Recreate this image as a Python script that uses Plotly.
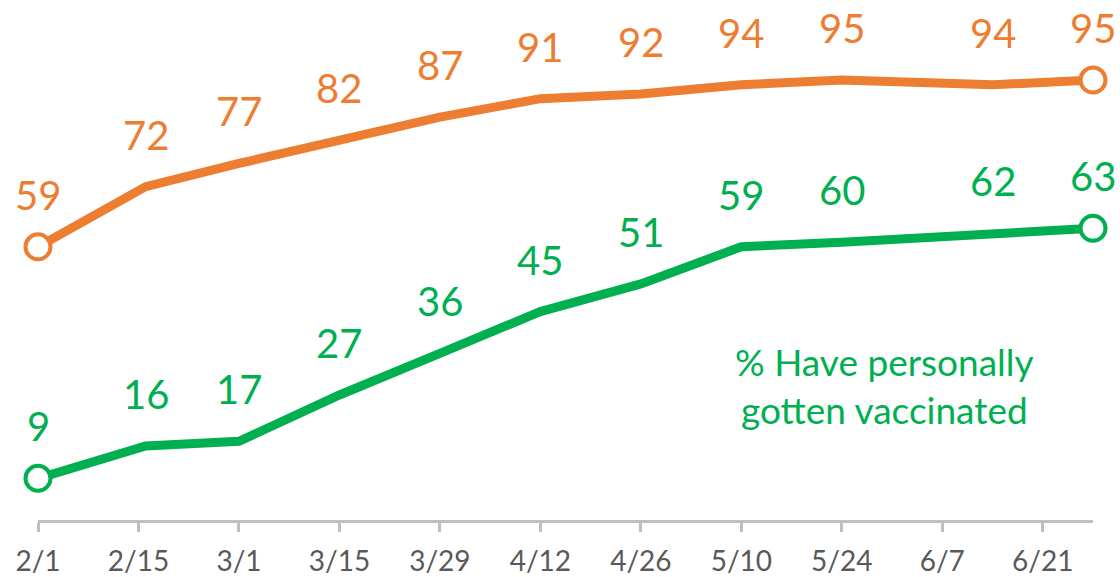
import plotly.graph_objects as go

dates = ["2021-02-01", "2021-02-16", "2021-03-01", "2021-03-15", "2021-03-29",
         "2021-04-12", "2021-04-26", "2021-05-10", "2021-05-24", "2021-06-14", "2021-06-28"]
orange_vals = [59, 72, 77, 82, 87, 91, 92, 94, 95, 94, 95]
green_vals = [9, 16, 17, 27, 36, 45, 51, 59, 60, 62, 63]

tick_dates = ["2021-02-01", "2021-02-15", "2021-03-01", "2021-03-15", "2021-03-29",
              "2021-04-12", "2021-04-26", "2021-05-10", "2021-05-24", "2021-06-07", "2021-06-21"]
tick_labels = ["2/1", "2/15", "3/1", "3/15", "3/29", "4/12", "4/26", "5/10", "5/24", "6/7", "6/21"]

green_label = "% Have personally<br>gotten vaccinated"

ORANGE = "#ED7D31"
GREEN = "#00B050"
FONT = "Lato"

fig = go.Figure()
for vals, col in [(orange_vals, ORANGE), (green_vals, GREEN)]:
    fig.add_trace(go.Scatter(x=dates, y=vals, mode="lines",
                             line=dict(color=col, width=9), cliponaxis=False,
                             hoverinfo="skip", showlegend=False))
    fig.add_trace(go.Scatter(x=[dates[0], dates[-1]], y=[vals[0], vals[-1]], mode="markers",
                             marker=dict(size=25, color="white", line=dict(color=col, width=4)),
                             cliponaxis=False, hoverinfo="skip", showlegend=False))
    for d, v in zip(dates, vals):
        fig.add_annotation(x=d, y=v, text=str(v), showarrow=False, yanchor="middle",
                           yshift=52, font=dict(family=FONT, size=40, color=col))

fig.add_annotation(x="2021-05-30", y=29, text=green_label, showarrow=False,
                   xanchor="center", yanchor="middle", align="center",
                   font=dict(family=FONT, size=37, color=GREEN))

fig.update_layout(
    width=1120, height=577,
    margin=dict(l=38, r=27, t=0, b=57),
    paper_bgcolor="white", plot_bgcolor="white",
    xaxis=dict(type="date", range=["2021-02-01", "2021-06-28"],
               tickvals=tick_dates, ticktext=tick_labels,
               showgrid=False, zeroline=False,
               showline=True, linecolor="#BFBFBF", linewidth=2.5,
               ticks="outside", ticklen=9, tickwidth=2.5, tickcolor="#BFBFBF",
               ticklabelstandoff=6,
               tickfont=dict(family=FONT, size=28, color="#595959")),
    yaxis=dict(range=[0, 112.3], visible=False),
)

fig.write_html("out.html", config={"displayModeBar": False},
               post_script="document.body.style.margin='0';document.body.style.overflow='hidden';")
